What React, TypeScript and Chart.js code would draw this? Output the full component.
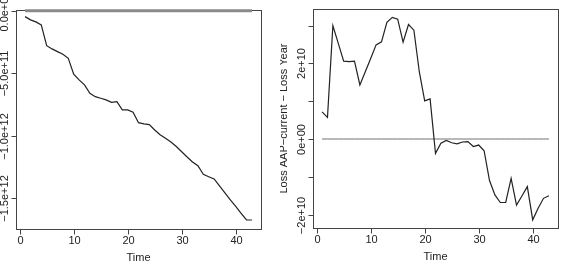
import React, { useEffect, useRef } from "react";
import { Chart, registerables } from "chart.js";

Chart.register(...registerables);

// ---------- data ----------
const time = [1, 2, 3, 4, 5, 6, 7, 8, 9, 10, 11, 12, 13, 14, 15, 16, 17, 18, 19, 20, 21, 22, 23, 24, 25, 26, 27, 28, 29, 30, 31, 32, 33, 34, 35, 36, 37, 38, 39, 40, 41, 42, 43];

// left panel (cumulative), units of 1e12
const cumulativeLoss = [
  -0.048, -0.074, -0.09, -0.114, -0.28, -0.306, -0.328, -0.349, -0.381, -0.509,
  -0.554, -0.594, -0.661, -0.688, -0.701, -0.714, -0.733, -0.728, -0.794, -0.794,
  -0.813, -0.896, -0.906, -0.912, -0.954, -0.992, -1.021, -1.05, -1.086, -1.128,
  -1.17, -1.21, -1.24, -1.309, -1.328, -1.346, -1.402, -1.458, -1.513, -1.566,
  -1.621, -1.674, -1.674,
];
const leftReference = [0, 0, 0, 0, 0, 0, 0, 0, 0, 0, 0, 0, 0, 0, 0, 0, 0, 0, 0, 0, 0, 0, 0, 0, 0, 0, 0, 0, 0, 0, 0, 0, 0, 0, 0, 0, 0, 0, 0, 0, 0, 0, 0];

// right panel (Loss AAP-current - Loss Year), units of 1e10
const lossDiff = [
  0.72, 0.57, 3.0, 2.53, 2.06, 2.045, 2.06, 1.43, 1.78, 2.13,
  2.49, 2.57, 3.09, 3.22, 3.17, 2.56, 3.03, 2.88, 1.78, 1.01,
  1.06, -0.38, -0.11, -0.04, -0.1, -0.13, -0.08, -0.07, -0.2, -0.16,
  -0.31, -1.1, -1.48, -1.68, -1.68, -1.04, -1.75, -1.51, -1.26, -2.14,
  -1.83, -1.57, -1.5,
];
const rightReference = [0, 0, 0, 0, 0, 0, 0, 0, 0, 0, 0, 0, 0, 0, 0, 0, 0, 0, 0, 0, 0, 0, 0, 0, 0, 0, 0, 0, 0, 0, 0, 0, 0, 0, 0, 0, 0, 0, 0, 0, 0, 0, 0];

const xTicks = [0, 10, 20, 30, 40];
const xTickLabels = ["0", "10", "20", "30", "40"];
const xTitle = "Time";

const leftYTicks = [0, -5e11, -1e12, -1.5e12];
const leftYTickLabels = ["0.0e+00", "\u22125.0e+11", "\u22121.0e+12", "\u22121.5e+12"];

const rightYTicks = [-2e10, -1e10, 0, 1e10, 2e10, 3e10];
const rightYTickLabels = ["\u22122e+10", "", "0e+00", "", "2e+10", ""];
const rightYTitle = "Loss AAP\u2212current \u2212 Loss Year";

// ---------- styling ----------
const FONT = '11px "Liberation Sans", Arial, sans-serif';
const BOX = "#444";
const LINE = "#222";

const rAxesPlugin = {
  id: "rAxes",
  beforeDatasetsDraw(chart: any) {
    const { ctx, chartArea: a } = chart;
    ctx.save();
    ctx.strokeStyle = BOX;
    ctx.lineWidth = 1;
    const l = Math.round(a.left) + 0.5;
    const t = Math.round(a.top) + 0.5;
    const r = Math.round(a.right) + 0.5;
    const b = Math.round(a.bottom) + 0.5;
    ctx.strokeRect(l, t, r - l, b - t);
    ctx.restore();
  },
  afterDraw(chart: any, _args: any, opts: any) {
    const { ctx, chartArea: a } = chart;
    const xs = chart.scales.x;
    const ys = chart.scales.y;
    const b = Math.round(a.bottom) + 0.5;
    const l = Math.round(a.left) + 0.5;
    ctx.save();
    ctx.strokeStyle = BOX;
    ctx.fillStyle = "#222";
    ctx.lineWidth = 1;
    ctx.font = FONT;
    // x axis
    const xp = opts.xTicks.map((v: number) => Math.round(xs.getPixelForValue(v)) + 0.5);
    ctx.beginPath();
    ctx.moveTo(xp[0], b);
    ctx.lineTo(xp[xp.length - 1], b);
    xp.forEach((p: number) => {
      ctx.moveTo(p, b);
      ctx.lineTo(p, b + 5);
    });
    ctx.stroke();
    ctx.textAlign = "center";
    ctx.textBaseline = "middle";
    xp.forEach((p: number, i: number) => ctx.fillText(opts.xLabels[i], p, a.bottom + 12));
    ctx.fillText(opts.xTitle, (a.left + a.right) / 2, a.bottom + 28.5);
    // y axis
    const yp = opts.yTicks.map((v: number) => Math.round(ys.getPixelForValue(v)) + 0.5);
    ctx.beginPath();
    ctx.moveTo(l, yp[0]);
    ctx.lineTo(l, yp[yp.length - 1]);
    yp.forEach((p: number) => {
      ctx.moveTo(l, p);
      ctx.lineTo(l - 5, p);
    });
    ctx.stroke();
    yp.forEach((p: number, i: number) => {
      const lab = opts.yLabels[i];
      if (!lab) return;
      ctx.save();
      ctx.translate(a.left - 11.5, p);
      ctx.rotate(-Math.PI / 2);
      ctx.fillText(lab, 0, 0);
      ctx.restore();
    });
    if (opts.yTitle) {
      ctx.save();
      ctx.translate(a.left - 29, (a.top + a.bottom) / 2);
      ctx.rotate(-Math.PI / 2);
      ctx.fillText(opts.yTitle, 0, 0);
      ctx.restore();
    }
    ctx.restore();
  },
};

function makeConfig(
  series: number[],
  reference: number[],
  unit: number,
  yMin: number,
  yMax: number,
  padding: any,
  axisOpts: any,
  refWidth: number,
  refColor: string
): any {
  return {
    type: "line",
    data: {
      datasets: [
        {
          data: time.map((t, i) => ({ x: t, y: series[i] * unit })),
          borderColor: LINE,
          borderWidth: 1.2,
          pointRadius: 0,
          tension: 0,
          fill: false,
        },
        {
          data: time.map((t, i) => ({ x: t, y: reference[i] * unit })),
          borderColor: refColor,
          borderWidth: refWidth,
          pointRadius: 0,
          tension: 0,
          fill: false,
          clip: false,
        },
      ],
    },
    options: {
      responsive: false,
      animation: false,
      devicePixelRatio: 1,
      layout: { padding },
      plugins: { legend: { display: false }, tooltip: { enabled: false }, rAxes: axisOpts },
      scales: {
        x: { type: "linear", display: false, min: -0.68, max: 44.68 },
        y: { type: "linear", display: false, min: yMin, max: yMax },
      },
    },
    plugins: [rAxesPlugin],
  };
}

export default function App() {
  const leftRef = useRef<HTMLCanvasElement>(null);
  const rightRef = useRef<HTMLCanvasElement>(null);

  useEffect(() => {
    const left = new Chart(
      leftRef.current as HTMLCanvasElement,
      makeConfig(
        cumulativeLoss,
        leftReference,
        1e12,
        -1.746e12,
        0.005e12,
        { left: 16, top: 10, right: 19, bottom: 50 },
        { xTicks, xLabels: xTickLabels, xTitle, yTicks: leftYTicks, yLabels: leftYTickLabels, yTitle: "" },
        3,
        "#8a8a8a"
      )
    );
    const right = new Chart(
      rightRef.current as HTMLCanvasElement,
      makeConfig(
        lossDiff,
        rightReference,
        1e10,
        -2.355e10,
        3.44e10,
        { left: 33, top: 9, right: 3, bottom: 51 },
        { xTicks, xLabels: xTickLabels, xTitle, yTicks: rightYTicks, yLabels: rightYTickLabels, yTitle: rightYTitle },
        1,
        "#707070"
      )
    );
    return () => {
      left.destroy();
      right.destroy();
    };
  }, []);

  return (
    <div style={{ position: "fixed", left: 0, top: 0, width: 561, height: 279, background: "#fff" }}>
      <canvas ref={leftRef} width={280} height={279} style={{ position: "absolute", left: 0, top: 0, width: 280, height: 279 }} />
      <canvas ref={rightRef} width={281} height={279} style={{ position: "absolute", left: 280, top: 0, width: 281, height: 279 }} />
    </div>
  );
}
